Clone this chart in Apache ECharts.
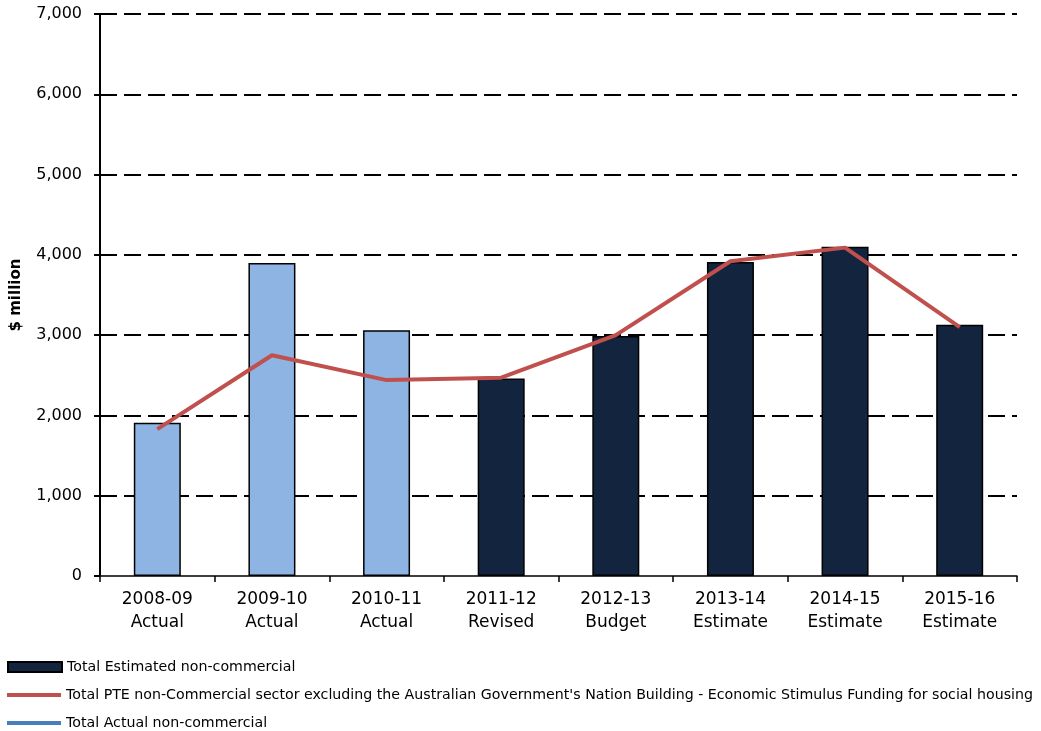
<!DOCTYPE html>
<html>
<head>
<meta charset="utf-8">
<script src="https://cdn.jsdelivr.net/npm/echarts@6/dist/echarts.min.js"></script>
<style>
  html, body { margin: 0; padding: 0; background: #fff; }
  #chart { width: 1041px; height: 731px; }
</style>
</head>
<body>
<div id="chart"></div>
<script>
// Financial years and their status
const years = ['2008-09', '2009-10', '2010-11', '2011-12', '2012-13', '2013-14', '2014-15', '2015-16'];
const status = ['Actual', 'Actual', 'Actual', 'Revised', 'Budget', 'Estimate', 'Estimate', 'Estimate'];

// $ million
const actualValues = [1910, 3900, 3060, null, null, null, null, null];
const estimatedValues = [null, null, null, 2460, 2990, 3910, 4100, 3130];
const excludingStimulus = [1830, 2750, 2440, 2470, 3000, 3920, 4090, 3100];

const yTicks = { min: 0, max: 7000, interval: 1000 };

const nameEstimated = 'Total Estimated non-commercial';
const namePTE = "Total PTE non-Commercial sector excluding the Australian Government's Nation Building - Economic Stimulus Funding for social housing";
const nameActual = 'Total Actual non-commercial';

const categories = years.map((y, i) => y + '\n' + status[i]);

const chart = echarts.init(document.getElementById('chart'), null, { renderer: 'canvas' });

const sans = '"DejaVu Sans", Verdana, sans-serif';
const legendText = { fontFamily: sans, fontSize: 14.2, color: '#000' };

chart.setOption({
  animation: false,
  backgroundColor: '#ffffff',
  grid: { left: 100, right: 24, top: 14, bottom: 155, containLabel: false, outerBoundsMode: 'none' },
  legend: [
    {
      data: [nameEstimated],
      orient: 'vertical', left: 2, top: 655,
      itemWidth: 54, itemHeight: 10,
      icon: 'rect',
      textStyle: legendText
    },
    {
      data: [{ name: namePTE, icon: 'rect', itemStyle: { color: '#C0504D', borderWidth: 0 } }],
      orient: 'vertical', left: 2, top: 683,
      itemWidth: 54, itemHeight: 4,
      textStyle: legendText
    },
    {
      data: [{ name: nameActual, icon: 'rect', itemStyle: { color: '#4A7EBB', borderWidth: 0 } }],
      orient: 'vertical', left: 2, top: 711,
      itemWidth: 54, itemHeight: 4,
      textStyle: legendText
    }
  ],
  xAxis: {
    type: 'category',
    data: categories,
    boundaryGap: true,
    axisLine: { lineStyle: { color: '#000', width: 1.5 } },
    axisTick: { show: true, length: 6, lineStyle: { color: '#000', width: 1.5 } },
    axisLabel: {
      color: '#000', fontFamily: sans, fontSize: 17, lineHeight: 23, margin: 12,
      interval: 0
    },
    splitLine: { show: false }
  },
  yAxis: {
    type: 'value',
    min: yTicks.min, max: yTicks.max, interval: yTicks.interval,
    name: '$ million',
    nameLocation: 'middle',
    nameGap: 76,
    nameRotate: 90,
    nameTextStyle: { fontFamily: sans, fontSize: 15, fontWeight: 'bold', color: '#000' },
    axisLine: { show: true, lineStyle: { color: '#000', width: 2 } },
    axisTick: { show: true, length: 6, inside: false, lineStyle: { color: '#000', width: 2 } },
    axisLabel: {
      color: '#000', fontFamily: sans, fontSize: 16, margin: 18,
      formatter: v => v.toLocaleString('en-US')
    },
    splitLine: { show: true, showMinLine: false, lineStyle: { color: '#000', width: 2, type: [17, 7] } }
  },
  series: [
    {
      name: nameActual,
      type: 'bar',
      stack: 'total',
      data: actualValues,
      barWidth: '41%',
      itemStyle: { color: '#8EB4E3', borderColor: '#000', borderWidth: 1.5 },
      z: 2
    },
    {
      name: nameEstimated,
      type: 'bar',
      stack: 'total',
      data: estimatedValues,
      barWidth: '41%',
      itemStyle: { color: '#12243E', borderColor: '#000', borderWidth: 1.5 },
      z: 2
    },
    {
      name: namePTE,
      type: 'line',
      data: excludingStimulus,
      symbol: 'none',
      showSymbol: false,
      lineStyle: { color: '#C0504D', width: 4 },
      itemStyle: { color: '#C0504D' },
      z: 5
    }
  ]
});
</script>
</body>
</html>
